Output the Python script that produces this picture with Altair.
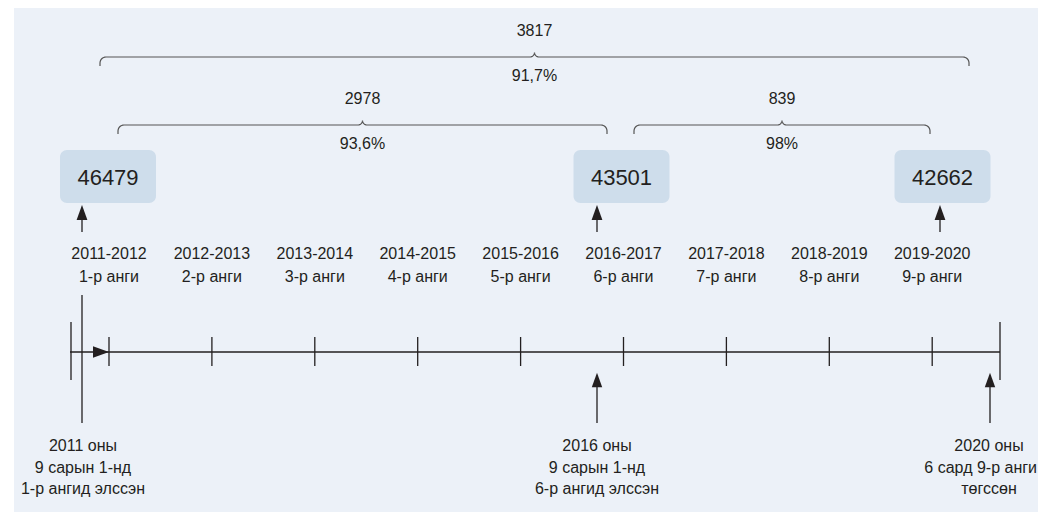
import math
import altair as alt
import pandas as pd

# ---------------- data ----------------
school_years = ["2011-2012", "2012-2013", "2013-2014", "2014-2015", "2015-2016",
                "2016-2017", "2017-2018", "2018-2019", "2019-2020"]
grades = ["1-р анги", "2-р анги", "3-р анги", "4-р анги", "5-р анги",
          "6-р анги", "7-р анги", "8-р анги", "9-р анги"]
cohort_values = [46479, 43501, 42662]
diff_values = [3817, 2978, 839]
diff_pcts = ["91,7%", "93,6%", "98%"]
event_texts = [
    ["2011 оны", "9 сарын 1-нд", "1-р ангид элссэн"],
    ["2016 оны", "9 сарын 1-нд", "6-р ангид элссэн"],
    ["2020 оны", "6 сард 9-р анги", "төгссөн"],
]

# ---------------- layout (pixel space of the picture) ----------------
BG = "#ECF1F8"
BOX = "#CEDDEB"
INK = "#231F20"
BRACE = "#555555"
FONT = "Liberation Sans"

TICK0, STEP = 109, 102.9
tick_x = [TICK0 + i * STEP for i in range(len(school_years))]
line_y = 352
box_cx = [108, 621.5, 942.5]
box_w, box_top, box_bot = 96, 150, 203
top_arrow_x = [82, 597, 940]
event_x = [83, 597, 989]
bottom_arrow_x = [597, 990]

W, H = 1030, 504
RIGHT = 8 + W
xs = alt.Scale(domain=[8, 8 + W], nice=False, zero=False)
ys = alt.Scale(domain=[8, 8 + H], nice=False, zero=False, reverse=True)


def X(f="x"):
    return alt.X(f + ":Q", scale=xs, axis=None)


def Y(f="y"):
    return alt.Y(f + ":Q", scale=ys, axis=None)


# background
bg = alt.Chart(pd.DataFrame({"x": [14], "x2": [8 + W], "y": [8], "y2": [8 + H]})).mark_rect(
    color=BG).encode(x=X(), x2="x2:Q", y=Y(), y2="y2:Q")

# boxes
boxes_df = pd.DataFrame({
    "x": [c - box_w / 2 for c in box_cx], "x2": [c + box_w / 2 for c in box_cx],
    "y": [box_top] * 3, "y2": [box_bot] * 3,
    "cx": box_cx, "cy": [(box_top + box_bot) / 2 + 1] * 3,
    "t": [str(v) for v in cohort_values],
})
boxes = alt.Chart(boxes_df).mark_rect(color=BOX, cornerRadius=7).encode(
    x=X(), x2="x2:Q", y=Y(), y2="y2:Q")
box_text = alt.Chart(boxes_df).mark_text(font=FONT, fontSize=22, color=INK, baseline="middle").encode(
    x=X("cx"), y=Y("cy"), text="t:N")


# braces
def brace(L, R, y, h=9, r=6, p=4.5, n=8):
    C = (L + R) / 2
    pts = [(L, y + h)]
    for k in range(n + 1):  # left corner
        t = math.pi - k * (math.pi / 2) / n
        pts.append((L + r + r * math.cos(t), y + r - r * math.sin(t)))
    for k in range(n + 1):  # cusp left half
        t = math.pi / 2 - k * (math.pi / 2) / n
        pts.append((C - p + p * math.cos(t), y - p + p * math.sin(t)))
    for k in range(n + 1):  # cusp right half
        t = math.pi - k * (math.pi / 2) / n
        pts.append((C + p + p * math.cos(t), y - p + p * math.sin(t)))
    for k in range(n + 1):  # right corner
        t = math.pi / 2 - k * (math.pi / 2) / n
        pts.append((R - r + r * math.cos(t), y + r - r * math.sin(t)))
    pts.append((R, y + h))
    return pts


brace_specs = [(100, 969, 57), (118, 607, 125), (634, 930, 125)]
rows = []
for g, (L, R, yy) in enumerate(brace_specs):
    for o, (px, py) in enumerate(brace(L, R, yy)):
        rows.append({"g": g, "o": o, "x": px, "y": py})
braces = alt.Chart(pd.DataFrame(rows)).mark_line(color=BRACE, strokeWidth=1.2).encode(
    x=X(), y=Y(), detail="g:N", order="o:Q")

brace_lbl = []
for (L, R, yy), v, pc in zip(brace_specs, diff_values, diff_pcts):
    C = (L + R) / 2
    brace_lbl.append({"x": C, "y": yy - 26, "t": str(v)})
    brace_lbl.append({"x": C, "y": yy + 19, "t": pc})
brace_text = alt.Chart(pd.DataFrame(brace_lbl)).mark_text(
    font=FONT, fontSize=16, color=INK, baseline="middle").encode(x=X(), y=Y(), text="t:N")

# timeline segments
segs = [(70, line_y, 1000, line_y), (71, 322, 71, 380), (82, 295, 82, 423), (1000, 322, 1000, 380)]
segs += [(tx, 337, tx, 366) for tx in tick_x]
segs += [(ax, 220, ax, 232) for ax in top_arrow_x]
segs += [(ax, 387, ax, 423) for ax in bottom_arrow_x]
seg_df = pd.DataFrame(segs, columns=["x", "y", "x2", "y2"])
rules = alt.Chart(seg_df).mark_rule(color=INK, strokeWidth=1.3).encode(
    x=X(), y=Y(), x2="x2:Q", y2="y2:Q")

# arrow heads
tri = "M0,-1L0.72,1L-0.72,1Z"
heads = [(ax, 212.5, 0, 225) for ax in top_arrow_x]
heads += [(ax, 380, 0, 210) for ax in bottom_arrow_x]
heads += [(101, line_y, 90, 256)]
head_df = pd.DataFrame(heads, columns=["x", "y", "a", "s"])
arrow_heads = alt.Chart(head_df).mark_point(shape=tri, filled=True, color=INK, opacity=1, strokeWidth=0).encode(
    x=X(), y=Y(), angle=alt.Angle("a:Q", scale=None), size=alt.Size("s:Q", scale=None))

# year / grade labels
lab_rows = []
for tx, sy, gr in zip(tick_x, school_years, grades):
    lab_rows.append({"x": tx, "y": 254, "t": sy, "al": "center"})
    lab_rows.append({"x": tx, "y": 277, "t": gr, "al": "center"})
for ex, lines in zip(event_x, event_texts):
    for k, ln in enumerate(lines):
        lab_rows.append({"x": ex, "y": 446 + 21.5 * k, "t": ln, "al": "center"})
lab_df = pd.DataFrame(lab_rows)
# keep the widest line of the last note inside the drawing's right edge
long_line = lab_df["t"] == event_texts[2][1]
lab_df.loc[long_line, "x"] = RIGHT - 1
lab_df.loc[long_line, "al"] = "right"

labels_c = alt.Chart(lab_df[lab_df["al"] == "center"]).mark_text(
    font=FONT, fontSize=16, color=INK, baseline="middle", align="center").encode(x=X(), y=Y(), text="t:N")
labels_r = alt.Chart(lab_df[lab_df["al"] == "right"]).mark_text(
    font=FONT, fontSize=16, color=INK, baseline="middle", align="right").encode(x=X(), y=Y(), text="t:N")

chart = alt.layer(bg, braces, brace_text, boxes, box_text, rules, arrow_heads, labels_c, labels_r).properties(
    width=W, height=H, autosize=alt.AutoSizeParams(type="none"), padding=0,
    background="white",
).configure_view(stroke=None)

chart.save("out.html", embed_options={"renderer": "svg", "actions": False})
